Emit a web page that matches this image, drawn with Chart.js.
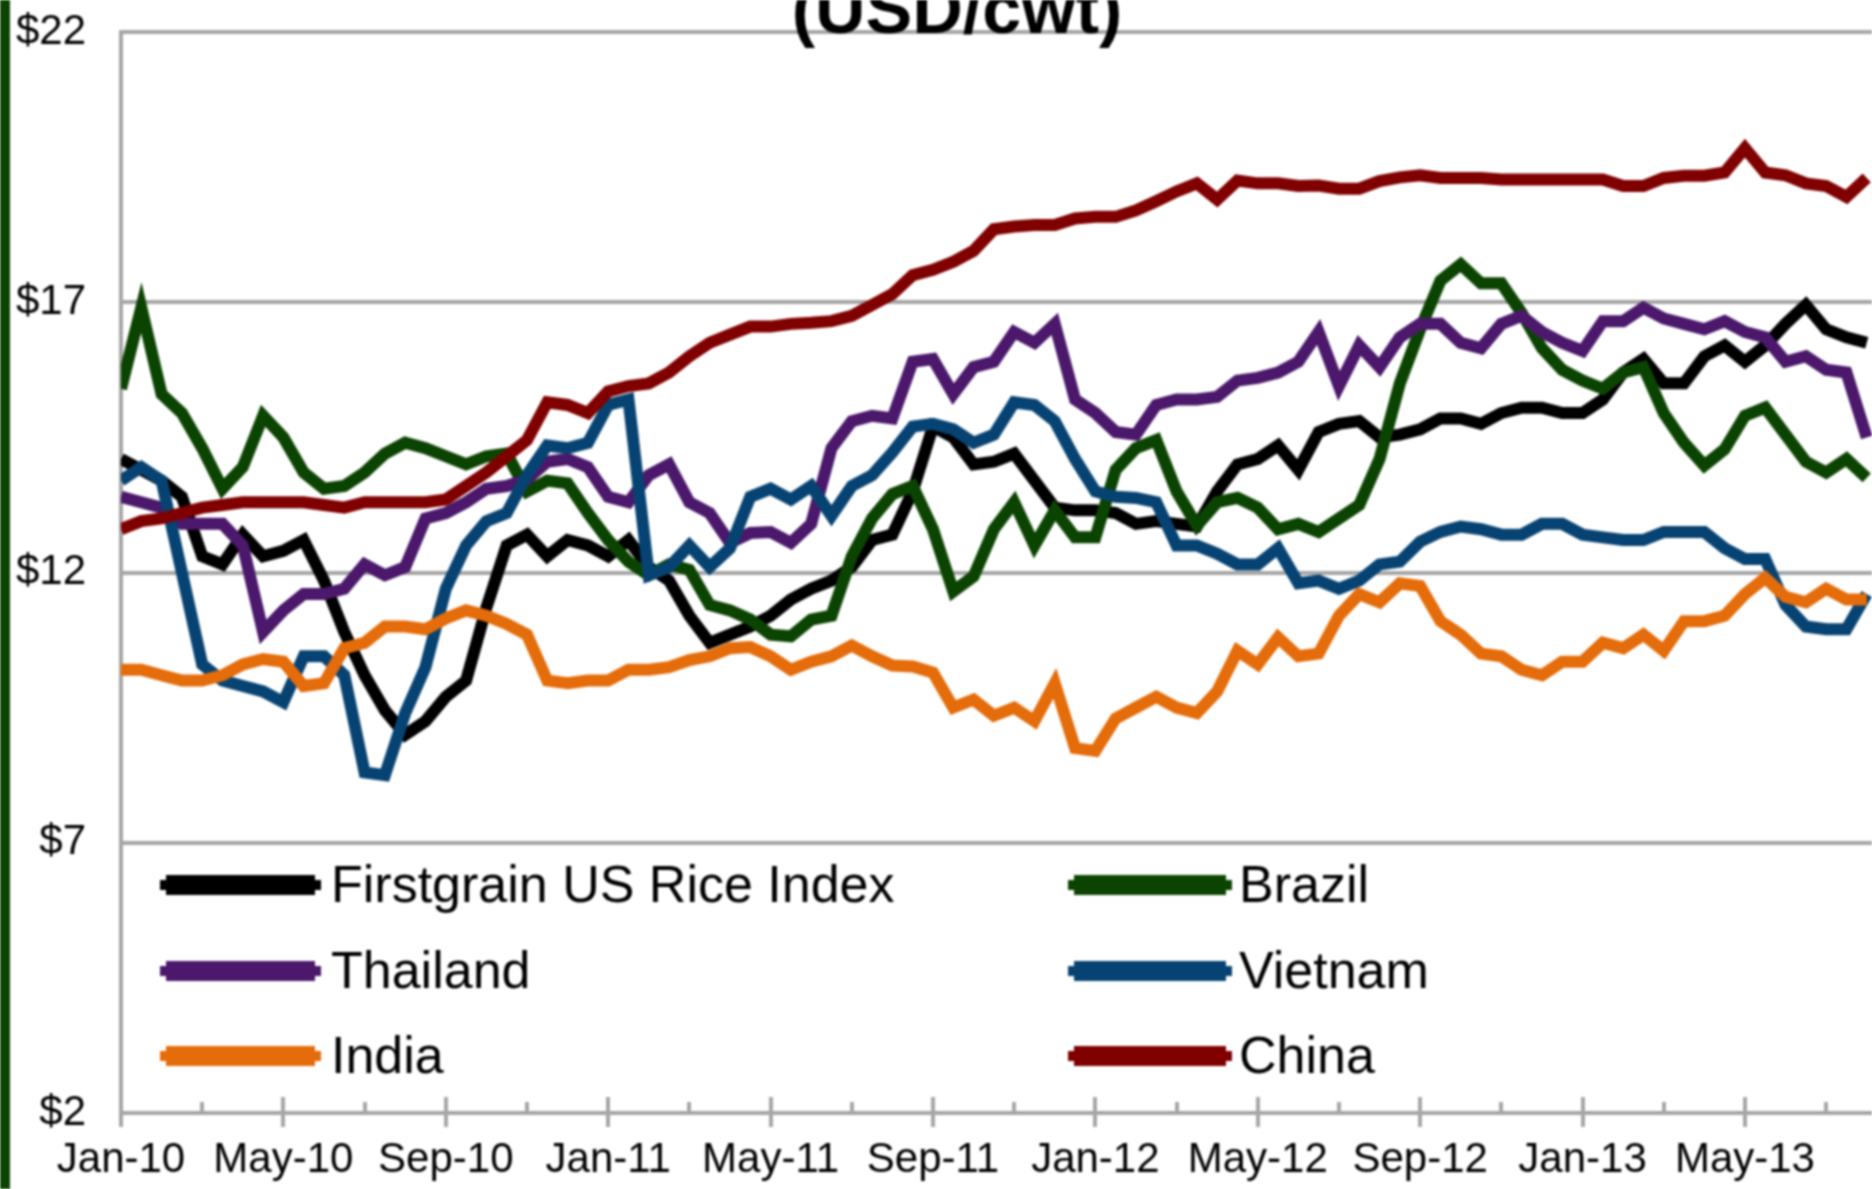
<!DOCTYPE html>
<html>
<head>
<meta charset="utf-8">
<script src="https://cdn.jsdelivr.net/npm/chart.js@4.4.1/dist/chart.umd.min.js"></script>
<style>
  html, body { margin: 0; padding: 0; background: #fff; overflow: hidden; }
  canvas { display: block; filter: blur(0.8px); }
</style>
</head>
<body>
<canvas id="myChart" width="1872" height="1189"></canvas>
<script>
// tick labels, one every 4 months starting Jan-10
const tickLabels = ["Jan-10", "May-10", "Sep-10", "Jan-11", "May-11", "Sep-11",
  "Jan-12", "May-12", "Sep-12", "Jan-13", "May-13"];

const seriesNames = ["Firstgrain US Rice Index", "Brazil", "Thailand", "Vietnam", "India", "China"];
const seriesColors = ["#000000", "#0b4401", "#4b186b", "#074372", "#e46c0a", "#800000"];

// prices in USD/cwt, read every half month from Jan-10
const firstgrain = [
  14.1, 13.9, 13.7, 13.4, 12.3, 12.15, 12.7, 12.3, 12.4, 12.6,
  11.85, 10.9, 10.1, 9.45, 9.0, 9.25, 9.7, 10.0, 11.35, 12.5,
  12.7, 12.3, 12.6, 12.5, 12.3, 12.6, 12.1, 11.85, 11.2, 10.7,
  10.85, 11.0, 11.2, 11.5, 11.7, 11.85, 12.1, 12.6, 12.7, 13.5,
  14.7, 14.5, 14.0, 14.05, 14.2, 13.7, 13.2, 13.15, 13.15, 13.1,
  12.9, 12.95, 12.9, 12.85, 13.5, 14.0, 14.1, 14.35, 13.9, 14.6,
  14.75, 14.8, 14.5, 14.55, 14.65, 14.85, 14.85, 14.75, 14.95, 15.05,
  15.05, 14.95, 14.95, 15.2, 15.7, 15.95, 15.5, 15.5, 16.0, 16.2,
  15.9, 16.2, 16.6, 16.95, 16.5, 16.35, 16.25
];
const brazil = [
  15.4, 16.9, 15.3, 14.95, 14.3, 13.55, 13.95, 14.9, 14.5, 13.85,
  13.55, 13.6, 13.85, 14.2, 14.4, 14.3, 14.15, 14.0, 14.15, 14.2,
  13.5, 13.7, 13.65, 13.1, 12.6, 12.2, 11.95, 12.15, 12.05, 11.4,
  11.3, 11.13, 10.85, 10.82, 11.13, 11.2, 12.3, 13.0, 13.45, 13.6,
  12.8, 11.65, 11.93, 12.8, 13.3, 12.5, 13.15, 12.65, 12.65, 13.9,
  14.3, 14.45, 13.5, 12.87, 13.3, 13.38, 13.2, 12.8, 12.9, 12.75,
  13.0, 13.25, 14.1, 15.5, 16.5, 17.4, 17.7, 17.35, 17.35, 16.8,
  16.15, 15.75, 15.55, 15.4, 15.7, 15.8, 14.95, 14.4, 13.98, 14.28,
  14.9, 15.05, 14.55, 14.05, 13.85, 14.1, 13.75
];
const thailand = [
  13.4, 13.3, 13.2, 12.9, 12.9, 12.9, 12.5, 10.9, 11.3, 11.6,
  11.6, 11.7, 12.15, 11.95, 12.1, 13.0, 13.1, 13.3, 13.55, 13.6,
  13.72, 14.05, 14.1, 13.95, 13.4, 13.3, 13.8, 14.0, 13.3, 13.1,
  12.55, 12.73, 12.75, 12.55, 12.9, 14.3, 14.8, 14.9, 14.85, 15.9,
  15.95, 15.3, 15.8, 15.9, 16.45, 16.25, 16.6, 15.2, 14.95, 14.6,
  14.55, 15.1, 15.2, 15.2, 15.25, 15.55, 15.6, 15.7, 15.9, 16.45,
  15.45, 16.2, 15.8, 16.35, 16.6, 16.6, 16.25, 16.15, 16.6, 16.75,
  16.45, 16.25, 16.1, 16.65, 16.65, 16.9, 16.7, 16.6, 16.5, 16.65,
  16.45, 16.35, 15.9, 16.0, 15.75, 15.7, 14.5
];
const vietnam = [
  13.7, 13.95, 13.7, 12.0, 10.3, 10.0, 9.9, 9.8, 9.6, 10.45,
  10.45, 10.1, 8.3, 8.25, 9.4, 10.25, 11.7, 12.5, 12.95, 13.1,
  13.8, 14.35, 14.3, 14.4, 15.1, 15.2, 11.95, 12.1, 12.5, 12.1,
  12.45, 13.4, 13.55, 13.35, 13.6, 13.05, 13.6, 13.8, 14.22, 14.7,
  14.75, 14.65, 14.4, 14.55, 15.15, 15.1, 14.8, 14.1, 13.5, 13.4,
  13.38, 13.3, 12.5, 12.5, 12.35, 12.15, 12.15, 12.45, 11.8, 11.85,
  11.7, 11.85, 12.15, 12.2, 12.57, 12.75, 12.85, 12.8, 12.7, 12.7,
  12.9, 12.9, 12.7, 12.65, 12.6, 12.6, 12.75, 12.75, 12.75, 12.45,
  12.25, 12.25, 11.4, 11.0, 10.95, 10.95, 11.6
];
const india = [
  10.2, 10.2, 10.1, 10.0, 10.0, 10.1, 10.3, 10.4, 10.35, 9.9,
  9.95, 10.6, 10.7, 11.0, 11.0, 10.95, 11.15, 11.3, 11.2, 11.05,
  10.85, 10.0, 9.95, 10.0, 10.0, 10.2, 10.2, 10.25, 10.38, 10.45,
  10.6, 10.62, 10.45, 10.2, 10.35, 10.45, 10.65, 10.45, 10.28, 10.26,
  10.15, 9.5, 9.65, 9.35, 9.5, 9.25, 9.95, 8.75, 8.7, 9.3,
  9.5, 9.7, 9.5, 9.4, 9.8, 10.55, 10.3, 10.8, 10.45, 10.5,
  11.2, 11.6, 11.45, 11.8, 11.75, 11.1, 10.85, 10.5, 10.45, 10.2,
  10.1, 10.35, 10.35, 10.7, 10.6, 10.85, 10.55, 11.1, 11.1, 11.2,
  11.6, 11.9, 11.55, 11.45, 11.7, 11.5, 11.5
];
const china = [
  12.8, 12.95, 13.0, 13.1, 13.2, 13.25, 13.3, 13.3, 13.3, 13.3,
  13.25, 13.2, 13.3, 13.3, 13.3, 13.3, 13.35, 13.6, 13.85, 14.15,
  14.45, 15.15, 15.1, 14.95, 15.35, 15.45, 15.5, 15.7, 16.0, 16.25,
  16.4, 16.55, 16.55, 16.6, 16.62, 16.65, 16.75, 16.95, 17.15, 17.5,
  17.6, 17.75, 17.95, 18.35, 18.4, 18.43, 18.43, 18.55, 18.58, 18.58,
  18.7, 18.87, 19.05, 19.2, 18.9, 19.25, 19.2, 19.2, 19.15, 19.16,
  19.1, 19.1, 19.24, 19.31, 19.35, 19.3, 19.3, 19.3, 19.27, 19.27,
  19.27, 19.27, 19.27, 19.27, 19.15, 19.15, 19.3, 19.34, 19.34, 19.4,
  19.85, 19.4, 19.35, 19.2, 19.15, 18.95, 19.3
];

const allSeries = [firstgrain, brazil, thailand, vietnam, india, china];
// x position of each reading, in months since Jan-10
const months = firstgrain.map((_, i) => i / 2);

const FONT = "'Liberation Sans', Arial, sans-serif";

const decor = {
  id: "decor",
  beforeDraw(chart) {
    const c = chart.ctx;
    c.save();
    c.fillStyle = "#0b4401";
    c.fillRect(0, 0, 10, chart.height);
    c.restore();
  },
  afterDraw(chart) {
    const c = chart.ctx;
    const xs = chart.scales.x;
    const bottom = chart.chartArea.bottom;
    c.save();
    // tick marks across the x axis
    c.strokeStyle = "#a6a6a6";
    c.lineWidth = 4;
    xs.ticks.forEach((t) => {
      if (!Number.isInteger(t.value) || t.value % 2 !== 0) return;
      const x = Math.round(xs.getPixelForValue(t.value));
      const major = t.value % 4 === 0;
      c.beginPath();
      c.moveTo(x, major ? bottom - 16 : bottom - 11);
      c.lineTo(x, major ? bottom + 14 : bottom);
      c.stroke();
    });

    // title, cut off by the top edge
    c.fillStyle = "#000";
    c.font = "bold 70px " + FONT;
    c.textAlign = "center";
    c.textBaseline = "alphabetic";
    c.fillText("(USD/cwt)", 957, 33);

    // legend: two columns, three rows
    const colLine = [[160, 321], [1068, 1232]];
    const colText = [331, 1239];
    const rowBase = [902, 988, 1073];
    c.font = "52px " + FONT;
    c.textAlign = "left";
    chart.data.datasets.forEach((ds, i) => {
      const col = i % 2;
      const row = Math.floor(i / 2);
      const y = rowBase[row] - 17;
      const [x0, x1] = colLine[col];
      c.fillStyle = ds.borderColor;
      c.fillRect(x0 + 6, y - 10, x1 - x0 - 12, 20);
      c.fillRect(x0, y - 5, x1 - x0, 10);
      c.fillStyle = "#000";
      c.fillText(ds.label, colText[col], rowBase[row]);
    });
    c.restore();
  },
};

const ctx = document.getElementById("myChart");

const datasets = seriesNames.map((name, i) => ({
  label: name,
  data: months.map((m, j) => ({ x: m, y: allSeries[i][j] })),
  borderColor: seriesColors[i],
  backgroundColor: seriesColors[i],
  borderWidth: 12,
  pointRadius: 0,
  tension: 0,
  fill: false,
  order: seriesNames.length - i,
}));

const myChart = new Chart(ctx, {
  type: "line",
  data: { datasets: datasets },
  options: {
    responsive: false,
    animation: false,
    devicePixelRatio: 1,
    layout: { padding: { top: 32, right: 0, bottom: 0, left: 0 } },
    plugins: {
      legend: { display: false },
      title: { display: false },
      tooltip: { enabled: false },
    },
    scales: {
      x: {
        type: "linear",
        min: 0,
        max: 43.13,
        afterFit: (scale) => {
          scale.height = 76;
          scale.paddingLeft = 0;
          scale.paddingRight = 0;
        },
        grid: { display: false, drawTicks: false },
        border: { display: true, color: "#a6a6a6", width: 4 },
        ticks: {
          stepSize: 2,
          autoSkip: false,
          maxRotation: 0,
          includeBounds: false,
          padding: 22,
          color: "#000",
          font: { family: FONT, size: 42 },
          callback: (v) => (v % 4 === 0 ? tickLabels[v / 4] : ""),
        },
      },
      y: {
        min: 2,
        max: 22,
        afterFit: (scale) => {
          scale.width = 121;
          scale.paddingTop = 0;
          scale.paddingBottom = 0;
        },
        grid: { color: "#a6a6a6", lineWidth: 4, drawTicks: false },
        border: { display: true, color: "#a6a6a6", width: 4 },
        ticks: {
          stepSize: 5,
          padding: 35,
          color: "#000",
          font: { family: FONT, size: 42 },
          callback: (v) => "$" + v,
        },
      },
    },
  },
  plugins: [decor],
});
</script>
</body>
</html>
